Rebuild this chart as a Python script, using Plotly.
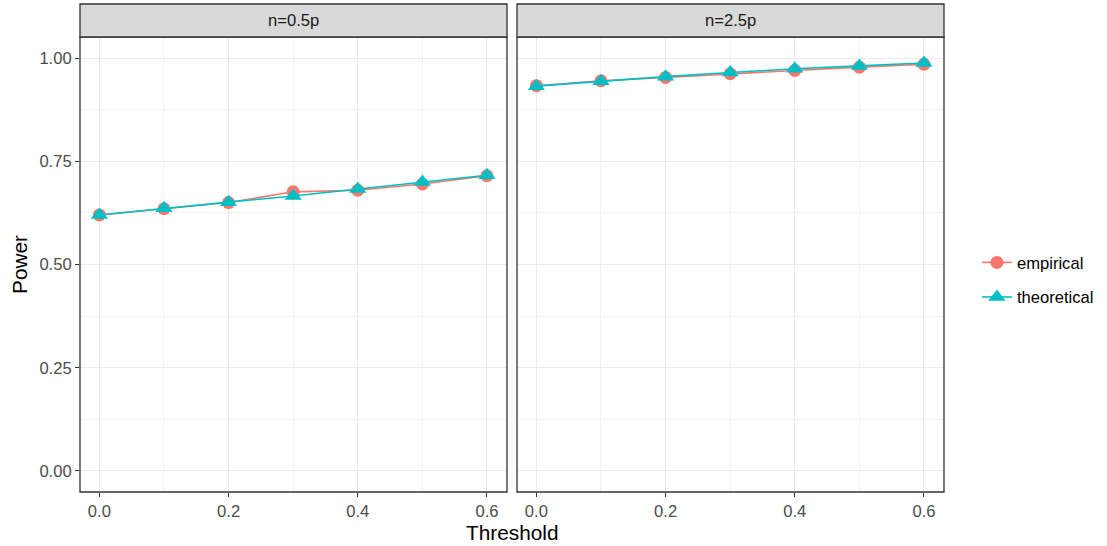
import plotly.graph_objects as go
from plotly.subplots import make_subplots

thresholds = [0.0, 0.1, 0.2, 0.3, 0.4, 0.5, 0.6]
panels = ["n=0.5p", "n=2.5p"]
emp_05 = [0.620, 0.635, 0.650, 0.676, 0.680, 0.695, 0.715]
theo_05 = [0.620, 0.636, 0.651, 0.666, 0.683, 0.700, 0.716]
emp_25 = [0.933, 0.945, 0.953, 0.962, 0.970, 0.978, 0.985]
theo_25 = [0.932, 0.944, 0.955, 0.965, 0.974, 0.981, 0.988]

RED = "#F8766D"
CYAN = "#00BFC4"
W, H = 1107, 546
FONT = "Liberation Sans, Arial, sans-serif"
SMALL = 16.6
BIG = 20.8

fig = make_subplots(rows=1, cols=2, shared_yaxes=True, horizontal_spacing=0.01)

data = [(emp_05, theo_05), (emp_25, theo_25)]
for i, (emp, theo) in enumerate(data):
    col = i + 1
    fig.add_trace(go.Scatter(x=thresholds, y=emp, mode="lines+markers", name="empirical",
                             line=dict(color=RED, width=1.6),
                             marker=dict(symbol="circle", size=13, color=RED),
                             showlegend=(i == 0), legendgroup="emp"), row=1, col=col)
    fig.add_trace(go.Scatter(x=thresholds, y=theo, mode="lines+markers", name="theoretical",
                             line=dict(color=CYAN, width=1.6),
                             marker=dict(symbol="triangle-up", size=15, color=CYAN),
                             showlegend=(i == 0), legendgroup="theo"), row=1, col=col)

xdoms = [[80 / W, 507 / W], [517 / W, 944 / W]]
ydom = [(H - 492) / H, (H - 37) / H]
strip_top = (H - 4) / H

axis_common = dict(showline=False, zeroline=False, ticks="outside", ticklen=4,
                   tickcolor="#333333", tickwidth=1.1,
                   tickfont=dict(family=FONT, size=SMALL, color="#4D4D4D"),
                   gridcolor="#EBEBEB", gridwidth=1.1)

for i in range(2):
    xa = "xaxis" if i == 0 else "xaxis2"
    fig.layout[xa].update(domain=xdoms[i], range=[-0.03, 0.631],
                          tickvals=[0.0, 0.2, 0.4, 0.6], ticktext=["0.0", "0.2", "0.4", "0.6"],
                          minor=dict(tickvals=[0.1, 0.3, 0.5], showgrid=True, gridcolor="#F2F2F2",
                                     gridwidth=0.6, ticks=""),
                          **axis_common)
    fig.add_shape(type="rect", xref="paper", yref="paper",
                  x0=xdoms[i][0], x1=xdoms[i][1], y0=ydom[0], y1=ydom[1],
                  line=dict(color="#333333", width=1.3), fillcolor="rgba(0,0,0,0)", layer="above")
    fig.add_shape(type="rect", xref="paper", yref="paper",
                  x0=xdoms[i][0], x1=xdoms[i][1], y0=ydom[1], y1=strip_top,
                  line=dict(color="#333333", width=1.3), fillcolor="#D9D9D9", layer="above")
    fig.add_annotation(x=(xdoms[i][0] + xdoms[i][1]) / 2, y=(ydom[1] + strip_top) / 2,
                       xref="paper", yref="paper", text=panels[i], showarrow=False,
                       xanchor="center", yanchor="middle",
                       font=dict(family=FONT, size=SMALL, color="#1A1A1A"))

fig.layout.yaxis.update(domain=ydom, range=[-0.051, 1.051],
                        tickvals=[0.0, 0.25, 0.5, 0.75, 1.0],
                        ticktext=["0.00", "0.25", "0.50", "0.75", "1.00"],
                        minor=dict(tickvals=[0.125, 0.375, 0.625, 0.875], showgrid=True,
                                   gridcolor="#F2F2F2", gridwidth=0.6, ticks=""),
                        title=dict(text="Power", font=dict(family=FONT, size=BIG, color="black"),
                                   standoff=6),
                        **axis_common)
fig.layout.yaxis2.update(domain=ydom, range=[-0.051, 1.051],
                         tickvals=[0.0, 0.25, 0.5, 0.75, 1.0], showticklabels=False, ticks="",
                         minor=dict(tickvals=[0.125, 0.375, 0.625, 0.875], showgrid=True,
                                    gridcolor="#F2F2F2", gridwidth=0.6, ticks=""),
                         gridcolor="#EBEBEB", gridwidth=1.1, zeroline=False, showline=False)

fig.add_annotation(x=(80 + 944) / 2 / W, y=(H - 532) / H, xref="paper", yref="paper",
                   text="Threshold", showarrow=False, xanchor="center", yanchor="middle",
                   font=dict(family=FONT, size=BIG, color="black"))

fig.update_layout(width=W, height=H, margin=dict(l=0, r=0, t=0, b=0),
                  plot_bgcolor="white", paper_bgcolor="white",
                  legend=dict(x=0.8825, y=0.487, xanchor="left", yanchor="middle",
                              font=dict(family=FONT, size=SMALL, color="black"),
                              bgcolor="rgba(0,0,0,0)", tracegroupgap=10))

fig.write_html("out.html", config={"displayModeBar": False},
               post_script="document.body.style.margin='0';")
